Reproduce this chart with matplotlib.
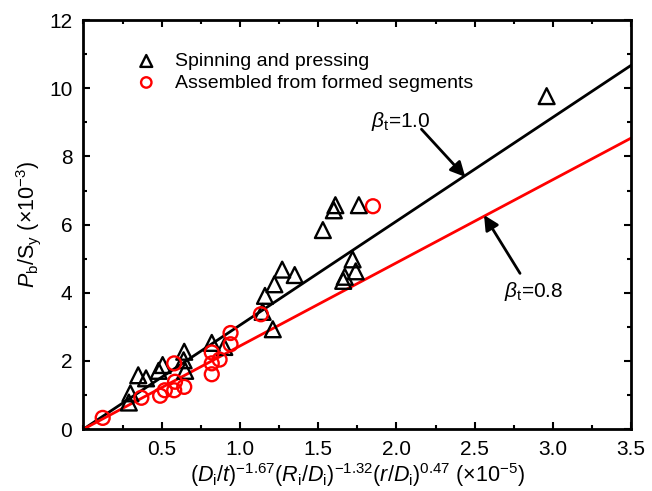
import numpy as np
import matplotlib.pyplot as plt
from matplotlib.ticker import MultipleLocator

plt.rcParams['font.family'] = ['Liberation Sans', 'DejaVu Sans']
plt.rcParams['mathtext.fontset'] = 'custom'
plt.rcParams['mathtext.rm'] = 'Liberation Sans'
plt.rcParams['mathtext.it'] = 'Liberation Sans:italic'
plt.rcParams['mathtext.bf'] = 'Liberation Sans:bold'

# data
spin_x = [2.96, 1.61, 1.60, 1.76, 1.53, 1.27, 1.35, 1.22, 1.16, 1.145, 1.21,
          1.72, 1.74, 1.67, 1.66, 0.30, 0.29, 0.35, 0.40, 0.48, 0.506,
          0.644, 0.64, 0.65, 0.82, 0.90]
spin_y = [9.77, 6.57, 6.42, 6.57, 5.84, 4.68, 4.52, 4.25, 3.91, 3.44, 2.93,
          4.98, 4.63, 4.47, 4.35, 1.05, 0.78, 1.58, 1.49, 1.71, 1.88,
          2.27, 2.02, 1.71, 2.53, 2.41]

seg_x = [1.85, 1.134, 0.123, 0.37, 0.49, 0.52, 0.58, 0.585, 0.58, 0.644,
         0.82, 0.82, 0.82, 0.87, 0.94, 0.94]
seg_y = [6.54, 3.37, 0.33, 0.92, 0.98, 1.14, 1.14, 1.39, 1.93, 1.24,
         2.25, 1.93, 1.61, 2.04, 2.82, 2.49]

slope_10 = 3.05
slope_08 = 0.8 * slope_10
line_x = np.array([0, 3.5])

fig = plt.figure(figsize=(6.52, 4.91), dpi=100)
ax = fig.add_axes([0.128, 0.126, 0.84, 0.833])

ax.plot(line_x, slope_10 * line_x, color='black', lw=2)
ax.plot(line_x, slope_08 * line_x, color='red', lw=2)

ax.scatter(spin_x, spin_y, marker='^', s=130, facecolors='none',
           edgecolors='black', linewidths=1.7, label='Spinning and pressing', zorder=3)
ax.scatter(seg_x, seg_y, marker='o', s=100, facecolors='none',
           edgecolors='red', linewidths=1.7, label='Assembled from formed segments', zorder=3)

# labels for the two lines
arrow = dict(arrowstyle='-|>', color='black', lw=2, mutation_scale=22,
             shrinkA=0, shrinkB=0)
ax.annotate('', xy=(2.44, 7.40), xytext=(2.16, 8.80), arrowprops=arrow)
ax.text(2.03, 9.03, r'$\beta_{\mathrm{t}}$=1.0', fontsize=15, ha='center', va='center')
ax.annotate('', xy=(2.56, 6.28), xytext=(2.79, 4.57), arrowprops=arrow)
ax.text(2.88, 4.05, r'$\beta_{\mathrm{t}}$=0.8', fontsize=15, ha='center', va='center')

ax.set_xlim(0, 3.5)
ax.set_ylim(0, 12)
ax.xaxis.set_minor_locator(MultipleLocator(0.25))
ax.yaxis.set_major_locator(MultipleLocator(2))
ax.yaxis.set_minor_locator(MultipleLocator(1))
ax.set_xticks([0.5, 1.0, 1.5, 2.0, 2.5, 3.0, 3.5])
ax.set_xticklabels(['0.5', '1.0', '1.5', '2.0', '2.5', '3.0', '3.5'])
ax.tick_params(which='both', direction='in', top=True, right=True, width=1.5)
ax.tick_params(which='major', length=5, labelsize=15, pad=8)
ax.tick_params(which='minor', length=3)
for s in ax.spines.values():
    s.set_linewidth(2)

ax.set_xlabel(r'$(D_{\mathrm{i}}/t)^{-1.67}(R_{\mathrm{i}}/D_{\mathrm{i}})^{-1.32}(r/D_{\mathrm{i}})^{0.47}$ (×10$^{-5}$)',
              fontsize=15.5, labelpad=1)
ax.set_ylabel(r'$P_{\mathrm{b}}/\mathrm{S}_{\mathrm{y}}$ (×10$^{-3}$)', fontsize=15.5, labelpad=4)

ax.legend(loc='upper left', bbox_to_anchor=(0.065, 0.94), frameon=False,
          fontsize=14, handletextpad=0.5, borderaxespad=0, labelspacing=0.2,
          markerscale=0.75)

fig.savefig('out.png', dpi=100)
